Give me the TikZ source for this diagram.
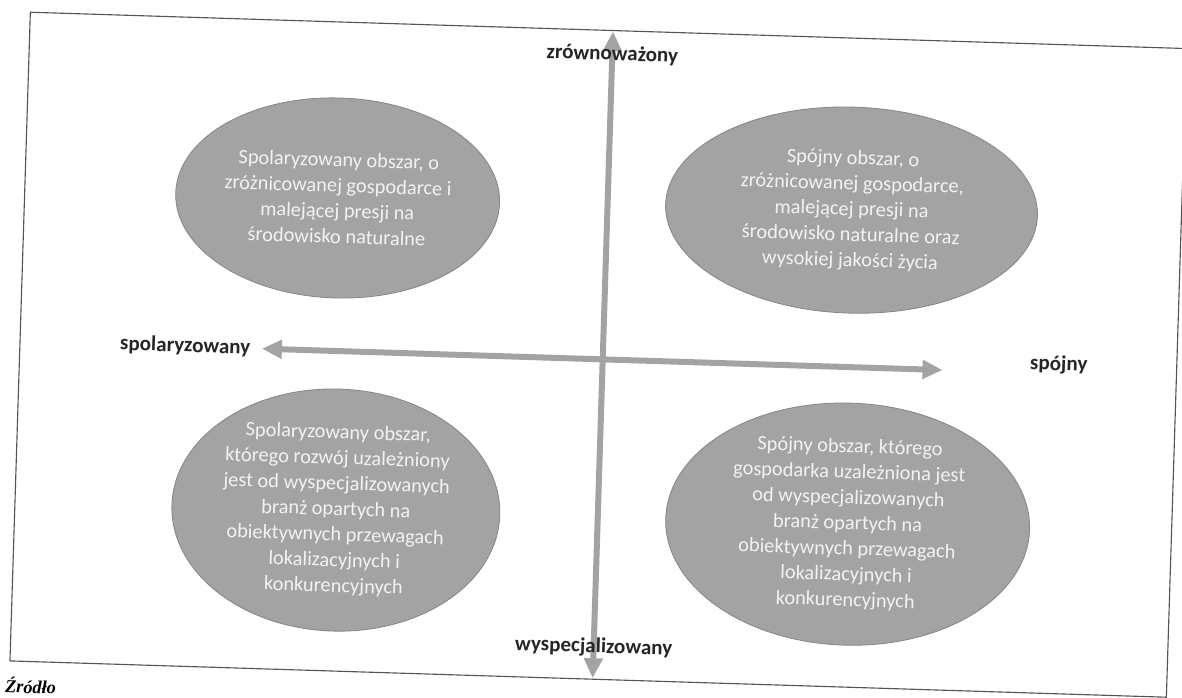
\documentclass[tikz,border=0pt]{standalone}
\usepackage{fontspec}
\setmainfont{Carlito}
\newfontfamily\srcfont{Liberation Serif}
\usepackage{tikz}
\usetikzlibrary{shapes.geometric, arrows.meta, positioning}
\definecolor{mygrey}{RGB}{163,163,163}
\definecolor{myedge}{RGB}{135,135,135}
\definecolor{mytext}{RGB}{242,242,242}
\definecolor{mydark}{RGB}{85,85,85}
\tikzset{
  oval/.style={ellipse, draw=myedge, fill=mygrey, inner sep=0pt,
    align=center, text=mytext, font=\fontsize{14.5}{18.2}\selectfont,
    line width=0.6pt},
  axislabel/.style={font=\fontsize{15}{17}\selectfont\bfseries,
    text=black!85, inner sep=1pt},
  axis/.style={{Triangle[width=0.45cm,length=0.5cm]}-{Triangle[width=0.45cm,length=0.5cm]},
    line width=0.15cm, color=mygrey},
  frame/.style={draw=mydark, line width=0.8pt}
}

\begin{document}
\begin{tikzpicture}
  \clip (-14.775,-8.675) rectangle (14.775,8.75);
  \fill[white] (-14.775,-8.675) rectangle (14.775,8.75);
  \begin{scope}[rotate=-1.8, transform shape]
  % Frame
  \draw[frame] (-14.275,-8.225) rectangle (14.65,8.0);
  % Axis ends
  \coordinate (ntop) at (0.3,7.98);
  \coordinate (nbot) at (0.3,-8.2);
  \coordinate (wleft) at (-8.225,-0.225);
  \coordinate (eright) at (8.8,-0.225);
  \draw[axis] (wleft) -- (eright);
  \draw[axis] (ntop) -- (nbot);
  % Axis labels
  \node[axislabel] (zrow) at (0.3,7.4) {zrównoważony};
  \node[axislabel] (wysp) at (0.3,-7.42) {wyspecjalizowany};
  \node[axislabel, left=0.25cm of wleft] (spol) {spolaryzowany};
  \node[axislabel] (spoj) at (11.7,0) {spójny};
  % Quadrants
  \node[oval, minimum width=8.1cm, minimum height=5.0cm] (polzroz) at (-6.45,3.6)
    {Spolaryzowany obszar, o\\zróżnicowanej gospodarce i\\malejącej presji na\\środowisko naturalne};
  \node[oval, minimum width=9.3cm, minimum height=5.15cm] (spozroz) at (6.4,3.7)
    {Spójny obszar, o\\zróżnicowanej gospodarce,\\malejącej presji na\\środowisko naturalne oraz\\wysokiej jakości życia};
  \node[oval, minimum width=8.2cm, minimum height=5.6cm] (polspec) at (-6.25,-4.2)
    {Spolaryzowany obszar,\\którego rozwój uzależniony\\jest od wyspecjalizowanych\\branż opartych na\\obiektywnych przewagach\\lokalizacyjnych i\\konkurencyjnych};
  \node[oval, minimum width=9.1cm, minimum height=5.7cm] (spospec) at (6.55,-4.15)
    {Spójny obszar, którego\\gospodarka uzależniona jest\\od wyspecjalizowanych\\branż opartych na\\obiektywnych przewagach\\lokalizacyjnych i\\konkurencyjnych};
  % Source line
  \node[anchor=north west, inner sep=0pt, font=\srcfont\fontsize{13}{15}\selectfont\bfseries\itshape] (src) at (-14.38,-8.62) {Źródło};
  \end{scope}
\end{tikzpicture}
\end{document}
